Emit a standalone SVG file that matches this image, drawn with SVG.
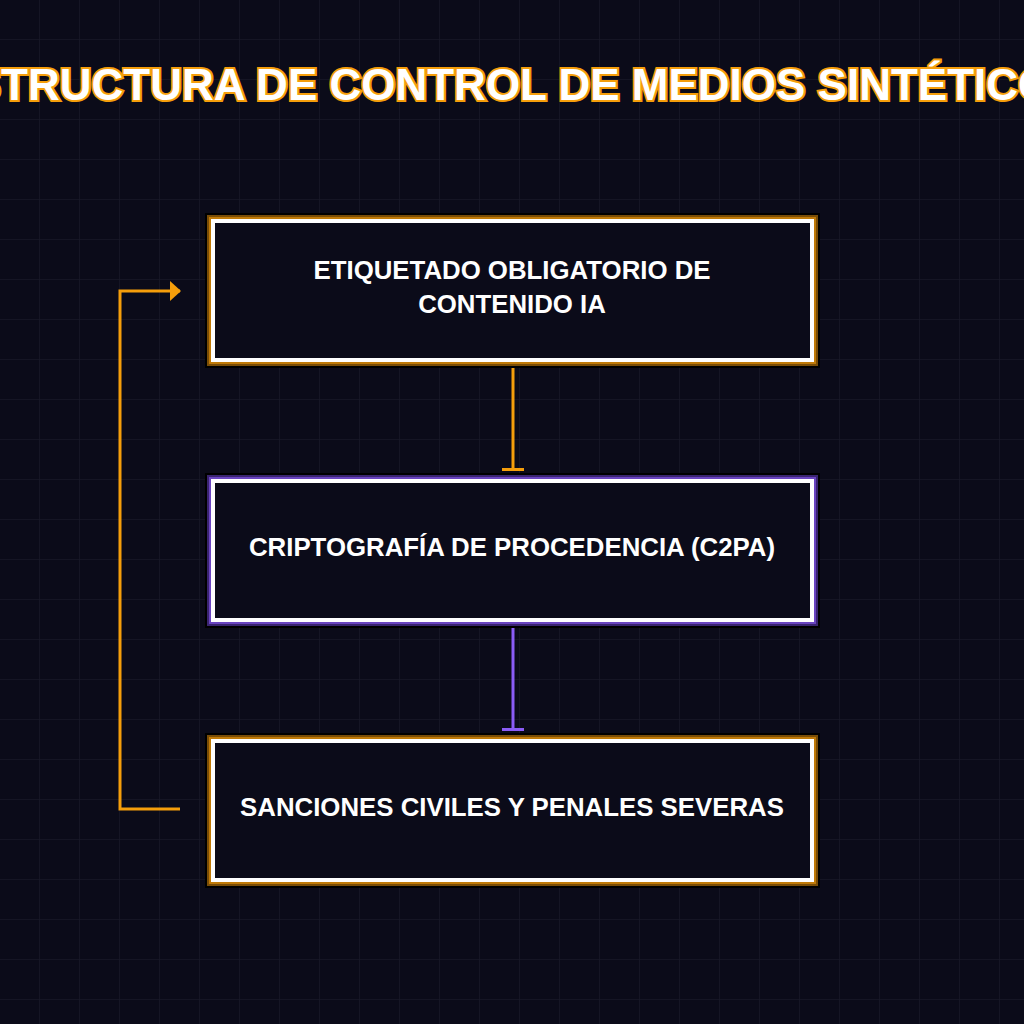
<svg xmlns="http://www.w3.org/2000/svg" width="1024" height="1024" viewBox="0 0 1024 1024">
<defs>
<pattern id="grid" width="40" height="40" patternUnits="userSpaceOnUse"><path d="M40 0V40H0" fill="none" stroke="#181828" stroke-width="1.5"/></pattern>
<marker id="arr" markerWidth="11" markerHeight="20" refX="10" refY="10" orient="auto" markerUnits="userSpaceOnUse"><path d="M0 0L11 10L0 20Z" fill="#f59e0b"/></marker>
<marker id="teeO" markerWidth="4" markerHeight="22" refX="2" refY="11" orient="auto" markerUnits="userSpaceOnUse"><rect x="0" y="0" width="3" height="22" fill="#f59e0b"/></marker>
<marker id="teeP" markerWidth="4" markerHeight="22" refX="2" refY="11" orient="auto" markerUnits="userSpaceOnUse"><rect x="0" y="0" width="3" height="22" fill="#8b5cf6"/></marker>
</defs>
<style>
.t{font-family:"Liberation Sans",Arial,sans-serif;font-weight:bold;fill:#fff;text-anchor:middle}
.in{fill:#0b0b19;stroke:#fff;stroke-width:4}
</style>
<rect width="1024" height="1024" fill="#0b0b19"/>
<rect width="1024" height="1024" fill="url(#grid)"/>
<text x="512" y="100" class="t" font-size="44" stroke="#f59e0b" stroke-width="4" paint-order="stroke">ESTRUCTURA DE CONTROL DE MEDIOS SINTÉTICOS</text>
<g id="connectors" fill="none" stroke-width="3">
<line x1="513" y1="361" x2="513" y2="470" stroke="#f59e0b" marker-end="url(#teeO)"/>
<line x1="513" y1="621" x2="513" y2="730" stroke="#8b5cf6" marker-end="url(#teeP)"/>
<path d="M180 809H120V291H180" stroke="#f59e0b" marker-end="url(#arr)"/>
</g>
<g id="n1">
<rect x="205" y="213" width="615" height="155" fill="#000"/>
<rect x="207" y="215" width="611" height="151" fill="#7a4d06"/>
<rect x="209" y="217" width="607" height="147" fill="#c07a08"/>
<rect x="213" y="221" width="599" height="139" class="in"/>
<text x="512" y="279" class="t" font-size="25.8">ETIQUETADO OBLIGATORIO DE</text>
<text x="512" y="313" class="t" font-size="25.8">CONTENIDO IA</text>
</g>
<g id="n2">
<rect x="205" y="473" width="615" height="155" fill="#000"/>
<rect x="207" y="475" width="611" height="151" fill="#3a2470"/>
<rect x="209" y="477" width="607" height="147" fill="#6a44c0"/>
<rect x="213" y="481" width="599" height="139" class="in"/>
<text x="512" y="556" class="t" font-size="25.8">CRIPTOGRAFÍA DE PROCEDENCIA (C2PA)</text>
</g>
<g id="n3">
<rect x="205" y="733" width="615" height="155" fill="#000"/>
<rect x="207" y="735" width="611" height="151" fill="#7a4d06"/>
<rect x="209" y="737" width="607" height="147" fill="#c07a08"/>
<rect x="213" y="741" width="599" height="139" class="in"/>
<text x="512" y="816" class="t" font-size="25.8">SANCIONES CIVILES Y PENALES SEVERAS</text>
</g>
</svg>
